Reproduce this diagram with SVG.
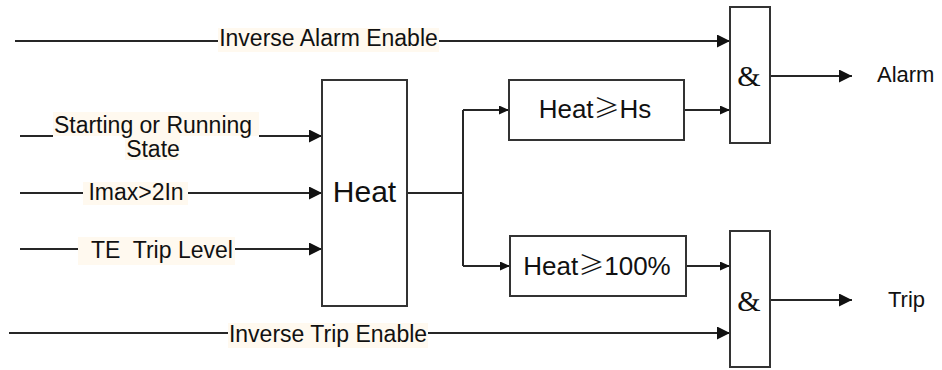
<svg xmlns="http://www.w3.org/2000/svg" width="942" height="370" viewBox="0 0 942 370">
<style>
.ln{fill:none;stroke:#262626;stroke-width:2}
.box{fill:#fff;stroke:#333;stroke-width:2}
.bg{fill:#fff9ef;stroke:none}
.t{font-family:"Liberation Sans",Arial,"Noto Sans CJK SC",sans-serif;fill:#111;font-size:23px}
.cjk{font-family:"Noto Sans CJK SC",sans-serif;font-weight:300}
.amp{font-family:"Liberation Serif","Times New Roman",serif;fill:#111;font-size:30px;text-anchor:middle}
</style>
<defs>
<marker id="big" markerUnits="userSpaceOnUse" markerWidth="14" markerHeight="14" refX="13" refY="6.5" orient="auto"><path d="M0,0 L13,6.5 L0,13 z" fill="#111"/></marker>
<marker id="sm" markerUnits="userSpaceOnUse" markerWidth="11" markerHeight="10" refX="10" refY="4.5" orient="auto"><path d="M0,0 L10,4.5 L0,9 z" fill="#111"/></marker>
</defs>
<rect width="942" height="370" fill="#fff"/>
<g id="connectors">
<path class="ln" d="M15,41 H730" marker-end="url(#big)"/>
<path class="ln" d="M20,136 H53"/>
<path class="ln" d="M259,136 H322" marker-end="url(#big)"/>
<path class="ln" d="M20,193 H83"/>
<path class="ln" d="M188,193 H322" marker-end="url(#big)"/>
<path class="ln" d="M20,249 H78"/>
<path class="ln" d="M233,249 H322" marker-end="url(#big)"/>
<path class="ln" d="M407,193 H463"/>
<path class="ln" d="M463,110 V266"/>
<path class="ln" d="M463,110 H509" marker-end="url(#sm)"/>
<path class="ln" d="M463,266 H510" marker-end="url(#sm)"/>
<path class="ln" d="M684,110 H730" marker-end="url(#sm)"/>
<path class="ln" d="M686,266 H730" marker-end="url(#sm)"/>
<path class="ln" d="M9,333 H730" marker-end="url(#big)"/>
<path class="ln" d="M770,76 H852" marker-end="url(#big)"/>
<path class="ln" d="M770,300 H852" marker-end="url(#big)"/>
</g>
<g id="lbl-alarm-enable">
<rect class="bg" x="218" y="28" width="221" height="24"/>
<text class="t" x="328.5" y="46" text-anchor="middle">Inverse Alarm Enable</text>
</g>
<g id="lbl-starting">
<rect class="bg" x="53" y="112" width="206" height="24"/>
<rect class="bg" x="125" y="136" width="55" height="24"/>
<text class="t" x="153" y="133" text-anchor="middle">Starting or Running</text>
<text class="t" x="153" y="157" text-anchor="middle">State</text>
</g>
<g id="lbl-imax">
<rect class="bg" x="83" y="182" width="105" height="23"/>
<text class="t" x="136" y="200" text-anchor="middle">Imax&gt;2In</text>
</g>
<g id="lbl-te">
<rect class="bg" x="78" y="237" width="157" height="28"/>
<text class="t" x="91" y="258" xml:space="preserve">TE  Trip Level</text>
</g>
<g id="lbl-trip-enable">
<rect class="bg" x="228" y="323" width="200" height="25"/>
<text class="t" x="328" y="342" text-anchor="middle">Inverse Trip Enable</text>
</g>
<g id="heat">
<rect class="box" x="322" y="80" width="85" height="226"/>
<text class="t" x="364.5" y="202" text-anchor="middle" style="font-size:30px">Heat</text>
</g>
<g id="heat-hs">
<rect class="box" x="509" y="80" width="175" height="60"/>
<text class="t" x="595" y="118" text-anchor="middle" style="font-size:26px">Heat<tspan class="cjk">≥</tspan>Hs</text>
</g>
<g id="heat-100">
<rect class="box" x="510" y="236" width="176" height="60"/>
<text class="t" x="597" y="275" text-anchor="middle" style="font-size:26px">Heat<tspan class="cjk">≥</tspan>100%</text>
</g>
<g id="and1">
<rect class="box" x="730" y="7" width="40" height="136"/>
<text class="amp" x="749" y="86">&amp;</text>
</g>
<g id="and2">
<rect class="box" x="730" y="231" width="40" height="136"/>
<text class="amp" x="749" y="311">&amp;</text>
</g>
<g id="out-alarm">
<text class="t" x="877" y="82" style="font-size:22px">Alarm</text>
</g>
<g id="out-trip">
<text class="t" x="888" y="307" style="font-size:22px">Trip</text>
</g>
</svg>
